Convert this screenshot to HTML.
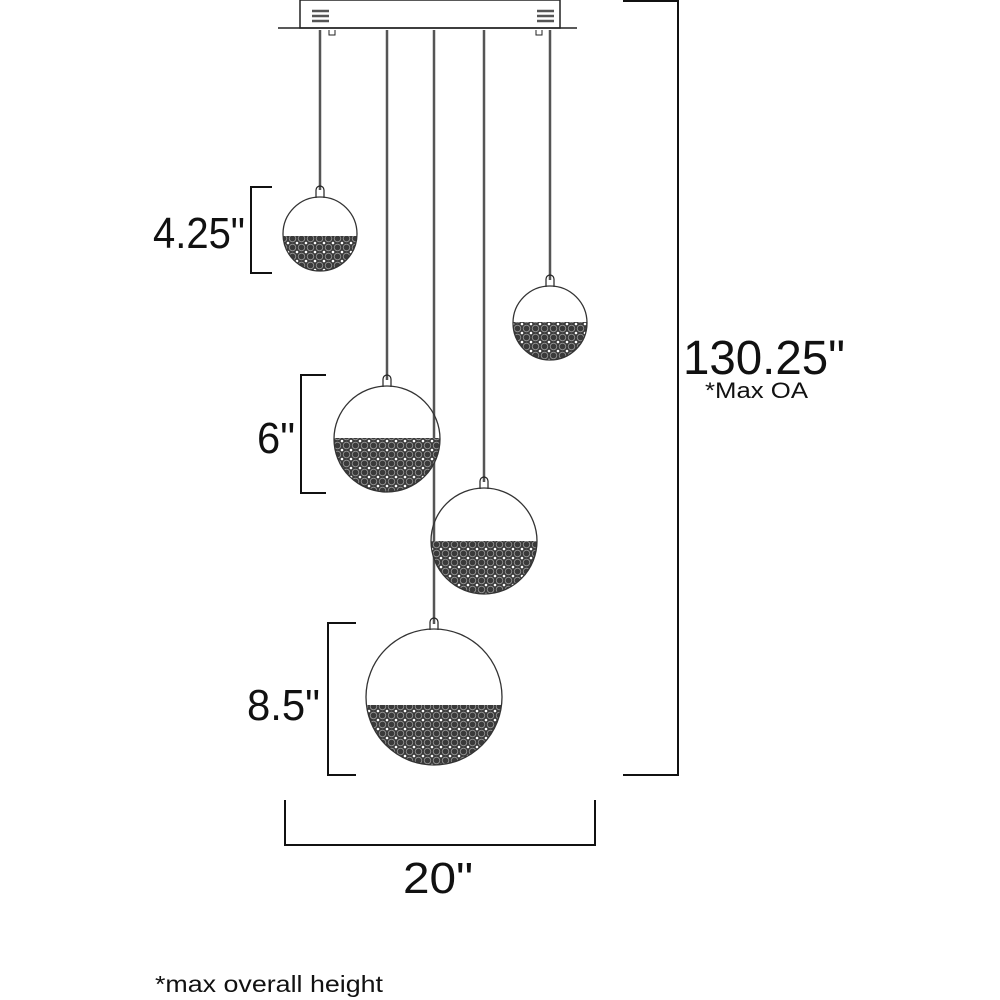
<!DOCTYPE html>
<html><head><meta charset="utf-8"><style>
html,body{margin:0;padding:0;background:#fff}
svg{display:block}
text{font-family:"Liberation Sans",sans-serif;fill:#111}
</style></head><body>
<svg width="1000" height="1000" viewBox="0 0 1000 1000">
<defs>
<pattern id="cr" width="9" height="9" patternUnits="userSpaceOnUse">
<rect width="9" height="9" fill="#3a3a3a"/>
<circle cx="4.5" cy="4.5" r="3.3" fill="none" stroke="#999" stroke-width="0.8"/>
<circle cx="0" cy="0" r="1.3" fill="#fff"/><circle cx="9" cy="0" r="1.3" fill="#fff"/>
<circle cx="0" cy="9" r="1.3" fill="#fff"/><circle cx="9" cy="9" r="1.3" fill="#fff"/>
</pattern>
<clipPath id="c1"><circle cx="320" cy="234" r="37"/></clipPath>
<clipPath id="c2"><circle cx="550" cy="323" r="37"/></clipPath>
<clipPath id="c3"><circle cx="387" cy="439" r="53"/></clipPath>
<clipPath id="c4"><circle cx="484" cy="541" r="53"/></clipPath>
<clipPath id="c5"><circle cx="434" cy="697" r="68"/></clipPath>
</defs>
<g stroke="#222" fill="none" stroke-width="1.5">
<rect x="300" y="0" width="260" height="28" fill="#fff"/>
<line x1="278" y1="28" x2="577" y2="28"/>
<g stroke-width="2.5" stroke="#555">
<line x1="312" y1="11" x2="329" y2="11"/><line x1="312" y1="16" x2="329" y2="16"/><line x1="312" y1="21" x2="329" y2="21"/>
<line x1="537" y1="11" x2="554" y2="11"/><line x1="537" y1="16" x2="554" y2="16"/><line x1="537" y1="21" x2="554" y2="21"/>
</g>
<path d="M329 30 v5 h6 v-5" stroke-width="1"/><path d="M536 30 v5 h6 v-5" stroke-width="1"/>
<g stroke-width="2.5" stroke="#555">
<line x1="320" y1="30" x2="320" y2="190"/>
<line x1="387" y1="30" x2="387" y2="380"/>
<line x1="434" y1="30" x2="434" y2="624"/>
<line x1="484" y1="30" x2="484" y2="482"/>
<line x1="550" y1="30" x2="550" y2="280"/>
</g>
<g stroke-width="1.2">
<path d="M316 198 v-8 a4 4 0 0 1 8 0 v8"/>
<path d="M546 287 v-8 a4 4 0 0 1 8 0 v8"/>
<path d="M383 387 v-8 a4 4 0 0 1 8 0 v8"/>
<path d="M480 489 v-8 a4 4 0 0 1 8 0 v8"/>
<path d="M430 630 v-8 a4 4 0 0 1 8 0 v8"/>
</g>
</g>
<rect x="280" y="236" width="80" height="40" fill="url(#cr)" clip-path="url(#c1)"/>
<rect x="510" y="322" width="80" height="40" fill="url(#cr)" clip-path="url(#c2)"/>
<rect x="330" y="438" width="115" height="60" fill="url(#cr)" clip-path="url(#c3)"/>
<rect x="428" y="541" width="115" height="60" fill="url(#cr)" clip-path="url(#c4)"/>
<rect x="362" y="705" width="145" height="65" fill="url(#cr)" clip-path="url(#c5)"/>
<g stroke="#333" fill="none" stroke-width="1.3">
<circle cx="320" cy="234" r="37"/><circle cx="550" cy="323" r="37"/>
<circle cx="387" cy="439" r="53"/><circle cx="484" cy="541" r="53"/>
<circle cx="434" cy="697" r="68"/>
</g>
<g stroke="#111" fill="none" stroke-width="2">
<path d="M272 187 H251 V273 H272"/>
<path d="M326 375 H301 V493 H326"/>
<path d="M356 623 H328 V775 H356"/>
<path d="M623 1 H678 V775 H623"/>
<path d="M285 800 V845 H595 V800"/>
</g>
<text x="153" y="248" font-size="44" textLength="92" lengthAdjust="spacingAndGlyphs">4.25"</text>
<text x="257" y="453" font-size="44" textLength="38" lengthAdjust="spacingAndGlyphs">6"</text>
<text x="247" y="720" font-size="44" textLength="73" lengthAdjust="spacingAndGlyphs">8.5"</text>
<text x="683" y="374" font-size="48" textLength="162" lengthAdjust="spacingAndGlyphs">130.25"</text>
<text x="705" y="398" font-size="22" textLength="103" lengthAdjust="spacingAndGlyphs">*Max OA</text>
<text x="403" y="893" font-size="44" textLength="70" lengthAdjust="spacingAndGlyphs">20"</text>
<text x="155" y="992" font-size="23" textLength="228" lengthAdjust="spacingAndGlyphs">*max overall height</text>
</svg>
</body></html>
